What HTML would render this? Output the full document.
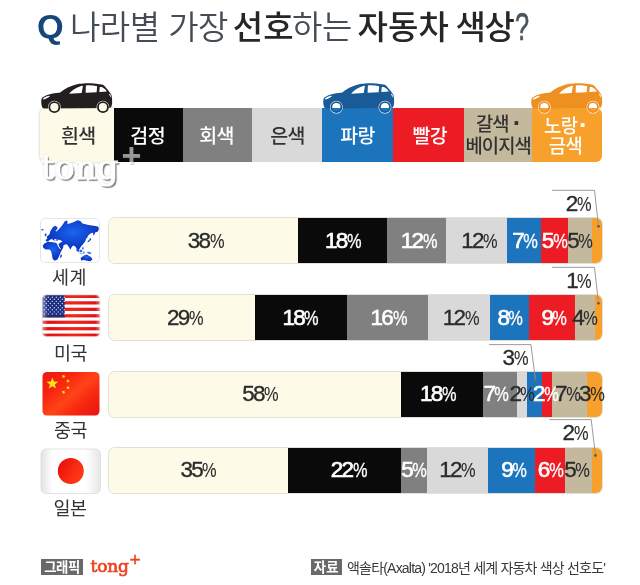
<!DOCTYPE html>
<html lang="ko">
<head>
<meta charset="utf-8">
<title>나라별 가장 선호하는 자동차 색상</title>
<style>
*{margin:0;padding:0;box-sizing:border-box}
html,body{width:640px;height:585px;background:#fff;overflow:hidden}
body{font-family:"Liberation Sans","Noto Sans CJK KR","NanumGothic",sans-serif;color:#333}
#wrap{position:relative;width:640px;height:585px;overflow:hidden;background:#fff}
.abs{position:absolute}
.kr{font-family:"Liberation Sans","Noto Sans CJK KR","NanumGothic",sans-serif}

/* title */
.t{position:absolute;top:4px;height:48px;line-height:48px;font-size:33px;white-space:nowrap;
  font-family:"Liberation Sans","Noto Sans CJK KR","NanumGothic",sans-serif;font-weight:350;color:#454c55}
.t.b{font-weight:500;color:#262626}
.t.q{font-family:"Liberation Sans",sans-serif;font-weight:700;color:#17477a;font-size:33px;top:1.5px;transform:scaleX(1.04);transform-origin:0 0}

/* legend */
.lg{position:absolute;top:108px;height:54px;width:70px;padding-top:2px;display:flex;align-items:center;justify-content:center;text-align:center;
  font-family:"Liberation Sans","Noto Sans CJK KR","NanumGothic",sans-serif;font-size:19.5px;font-weight:500;line-height:22px;color:#fff;letter-spacing:-0.6px}
.lg.dk{color:#333}

/* bars */
.bar{position:absolute;left:109px;width:492.5px;height:45px;border-radius:6px;overflow:hidden;box-shadow:0 0 0 1px #e3e1d6}
.seg{position:absolute;top:0;height:100%}
.pct{position:absolute;height:45px;line-height:45px;font-size:22.5px;white-space:nowrap;text-align:center;
  font-family:"Liberation Sans",sans-serif;letter-spacing:-1.7px;color:#2b2b2b;transform:translateX(-50%);-webkit-text-stroke:0.35px #2b2b2b}
.pct.w{color:#fff;-webkit-text-stroke:0.65px #fff}
.pct i,.co i{font-style:normal;font-size:19.5px;letter-spacing:0;margin-left:0.3px;display:inline-block;transform:scaleX(.84);transform-origin:0 50%;margin-right:-3.1px;-webkit-text-stroke-width:0.1px}
.pct.w i{-webkit-text-stroke-width:0.3px}
.co{position:absolute;font-size:22.5px;line-height:22px;font-family:"Liberation Sans",sans-serif;letter-spacing:-1.7px;color:#2b2b2b;white-space:nowrap;-webkit-text-stroke:0.35px #2b2b2b}

.flag{position:absolute;left:41px;width:59px;height:44px;border-radius:5px;overflow:hidden}
.cn{position:absolute;width:60px;left:40px;text-align:center;font-size:18.5px;line-height:20px;color:#333;
  font-family:"Liberation Sans","Noto Sans CJK KR","NanumGothic",sans-serif;font-weight:400;letter-spacing:-0.5px}

.tag{position:absolute;top:559px;height:16px;background:#666;color:#fff;font-family:"Liberation Sans","Noto Sans CJK KR","NanumGothic",sans-serif;
  font-weight:700;font-size:13.4px;line-height:15.6px;text-align:center;letter-spacing:-0.45px;background:#696969;padding-top:0.6px;overflow:hidden}
</style>
</head>
<body>
<div id="wrap">

<!-- TITLE -->
<div class="t q" style="left:37.3px;top:3px">Q</div>
<div class="t" id="t1" style="left:70px;letter-spacing:-0.5px;word-spacing:0px">나라별 가장</div>
<div class="t b" id="t2" style="left:232.7px;letter-spacing:0.2px">선호</div>
<div class="t" id="t3" style="left:292px;letter-spacing:-0.3px">하는</div>
<div class="t b" id="t4" style="left:357.5px;letter-spacing:0.1px">자동차</div>
<div class="t b" id="t4b" style="left:455.4px;letter-spacing:-1.2px">색상</div>
<div class="t" id="t5" style="left:514.9px;font-size:39px;font-weight:400;top:3.1px;transform:scaleX(.65);transform-origin:0 0;color:#4a545e;-webkit-text-stroke:0.7px #4a545e">?</div>

<!-- LEGEND -->
<div class="lg dk" style="left:40px;width:73.6px;padding-left:3px;background:#fdfbe8;border-radius:6px 0 0 6px;box-shadow:0 0 3px rgba(0,0,0,.25)">흰색</div>
<div class="lg" style="left:113.6px;width:69.2px;padding-right:1px;background:#0a0a0a">검정</div>
<div class="lg" style="left:182.8px;width:69.4px;padding-right:2px;background:#808080">회색</div>
<div class="lg dk" style="left:252.2px;width:69.8px;padding-left:1px;background:#d9d9d9">은색</div>
<div class="lg" style="left:322px;width:71px;background:#1c75bc">파랑</div>
<div class="lg" style="left:393px;width:71px;padding-left:2.5px;background:#ed1c24">빨강</div>
<div class="lg dk" style="left:464px;width:68.3px;background:#c4b99d;font-size:18.8px;line-height:22px;letter-spacing:-0.9px;padding-top:1px;padding-bottom:0"><div>갈색<span style="margin-left:4px;font-size:26px;font-weight:700;line-height:0;position:relative;top:1.5px">·</span><br>베이지색</div></div>
<div class="lg" style="left:532.3px;width:69.7px;background:#f7a12c;border-radius:0 6px 6px 0;font-size:18.8px;line-height:20.5px;letter-spacing:-0.5px;padding-top:4px;padding-right:3px"><div>노랑<span style="margin-left:1.5px;font-size:26px;font-weight:700;line-height:0;position:relative;top:1.5px">·</span><br>금색</div></div>

<!-- BARS -->
<div class="bar" style="top:218px">
<div class="seg" style="left:0px;width:189px;background:#fdfbe8"></div>
<div class="seg" style="left:189px;width:89px;background:#0a0a0a"></div>
<div class="seg" style="left:278px;width:59px;background:#808080"></div>
<div class="seg" style="left:337px;width:61px;background:#d9d9d9"></div>
<div class="seg" style="left:398px;width:34px;background:#1c75bc"></div>
<div class="seg" style="left:432px;width:27px;background:#ed1c24"></div>
<div class="seg" style="left:459px;width:24px;background:#c4b99d"></div>
<div class="seg" style="left:483px;width:10px;background:#f7a12c"></div>
</div>
<div class="pct" style="left:205.75px;top:218px">38<i>%</i></div>
<div class="pct w" style="left:343.00px;top:218px">18<i>%</i></div>
<div class="pct w" style="left:418.85px;top:218px">12<i>%</i></div>
<div class="pct" style="left:479.25px;top:218px">12<i>%</i></div>
<div class="pct w" style="left:525.00px;top:218px">7<i>%</i></div>
<div class="pct w" style="left:554.50px;top:218px">5<i>%</i></div>
<div class="pct" style="left:580.00px;top:218px">5<i>%</i></div>
<div class="bar" style="top:295px">
<div class="seg" style="left:0px;width:146px;background:#fdfbe8"></div>
<div class="seg" style="left:146px;width:92px;background:#0a0a0a"></div>
<div class="seg" style="left:238px;width:81px;background:#808080"></div>
<div class="seg" style="left:319px;width:62px;background:#d9d9d9"></div>
<div class="seg" style="left:381px;width:39.2px;background:#1c75bc"></div>
<div class="seg" style="left:420.2px;width:45.8px;background:#ed1c24"></div>
<div class="seg" style="left:466px;width:20.2px;background:#c4b99d"></div>
<div class="seg" style="left:486.2px;width:7px;background:#f7a12c"></div>
</div>
<div class="pct" style="left:185.00px;top:295px">29<i>%</i></div>
<div class="pct w" style="left:300.50px;top:295px">18<i>%</i></div>
<div class="pct w" style="left:388.65px;top:295px">16<i>%</i></div>
<div class="pct" style="left:460.75px;top:295px">12<i>%</i></div>
<div class="pct w" style="left:510.10px;top:295px">8<i>%</i></div>
<div class="pct w" style="left:554.25px;top:295px">9<i>%</i></div>
<div class="pct" style="left:585.05px;top:295px">4<i>%</i></div>
<div class="bar" style="top:372px">
<div class="seg" style="left:0px;width:291.5px;background:#fdfbe8"></div>
<div class="seg" style="left:291.5px;width:82.5px;background:#0a0a0a"></div>
<div class="seg" style="left:374px;width:34px;background:#808080"></div>
<div class="seg" style="left:408px;width:9.5px;background:#d9d9d9"></div>
<div class="seg" style="left:417.5px;width:15.5px;background:#1c75bc"></div>
<div class="seg" style="left:433px;width:10px;background:#ed1c24"></div>
<div class="seg" style="left:443px;width:35px;background:#c4b99d"></div>
<div class="seg" style="left:478px;width:15px;background:#f7a12c"></div>
</div>
<div class="pct" style="left:260.25px;top:371px">58<i>%</i></div>
<div class="pct w" style="left:438.00px;top:371px">18<i>%</i></div>
<div class="pct w" style="left:496.30px;top:371px">7<i>%</i></div>
<div class="pct" style="left:522.25px;top:371px">2<i>%</i></div>
<div class="pct w" style="left:545.75px;top:371px">2<i>%</i></div>
<div class="pct" style="left:567.80px;top:371px">7<i>%</i></div>
<div class="pct" style="left:591.80px;top:371px">3<i>%</i></div>
<div class="bar" style="top:448px">
<div class="seg" style="left:0px;width:179px;background:#fdfbe8"></div>
<div class="seg" style="left:179px;width:112.5px;background:#0a0a0a"></div>
<div class="seg" style="left:291.5px;width:26.0px;background:#808080"></div>
<div class="seg" style="left:317.5px;width:61.5px;background:#d9d9d9"></div>
<div class="seg" style="left:379px;width:46.5px;background:#1c75bc"></div>
<div class="seg" style="left:425.5px;width:30.0px;background:#ed1c24"></div>
<div class="seg" style="left:455.5px;width:27.0px;background:#c4b99d"></div>
<div class="seg" style="left:482.5px;width:10.5px;background:#f7a12c"></div>
</div>
<div class="pct" style="left:198.50px;top:447px">35<i>%</i></div>
<div class="pct w" style="left:348.75px;top:447px">22<i>%</i></div>
<div class="pct w" style="left:414.00px;top:447px">5<i>%</i></div>
<div class="pct" style="left:457.25px;top:447px">12<i>%</i></div>
<div class="pct w" style="left:514.00px;top:447px">9<i>%</i></div>
<div class="pct w" style="left:550.50px;top:447px">6<i>%</i></div>
<div class="pct" style="left:577.00px;top:447px">5<i>%</i></div>
<!-- FLAGS -->
<svg class="abs" style="left:40px;top:218px" width="60" height="45" viewBox="0 0 60 45">
<defs><radialGradient id="wg" cx="0.52" cy="0.38" r="0.55"><stop offset="0" stop-color="#1a66ee"/><stop offset="1" stop-color="#0b2fbd"/></radialGradient></defs>
<rect x="0.5" y="0.5" width="59" height="44" rx="4.5" fill="#fff" stroke="#e6e6ea"/>
<g fill="url(#wg)">
<!-- Eurasia -->
<path d="M5.6,22 L7.4,20.6 L6.6,19 L8.2,17.6 L9.6,16 L10.2,13.6 L11.6,11 L13,9 L15.2,7.8 L17.6,9.2 L17,11.4 L15.4,13 L16.4,13.6 L18.6,11.6 L20.4,9.6 L22,7.4 L23.6,5.2 L24.6,3.4 L26.6,2.6 L27.6,3.4 L27.4,6.2 L29.4,5.6 L32,4.8 L35,3.4 L37.4,2.2 L40.4,3 L42.4,5.4 L45.6,6.2 L48.6,7 L52,7.6 L55.4,8 L58.4,8.8 L58.8,11.6 L57.4,14 L55.4,14.2 L54.4,16.6 L53.4,17.8 L53,14.8 L50.4,15.6 L48,17.8 L47.4,19.6 L46.2,20.6 L45.2,23.4 L43.2,26 L41,28.6 L39.4,31 L38.4,33.8 L37,31.2 L35.4,28.6 L33,27.6 L31.4,29.6 L30.4,31.8 L28.6,28.6 L26.8,26.2 L25,26.6 L23.4,27.4 L23,30.4 L21.4,31.2 L19.6,29 L18.4,26.2 L20.4,24.6 L22.6,23.8 L21,22.4 L19,21.8 L17.4,22.8 L15.6,22.2 L13.6,22.6 L12,21 L10.4,21.6 L9,22.4 L8,23.4 L6,23.2 Z"/>
<!-- UK, Iceland, Japan -->
<ellipse cx="5.6" cy="16.8" rx="0.9" ry="1.5"/>
<ellipse cx="2.4" cy="11.8" rx="1.2" ry="0.8"/>
<path d="M50.4,20 L51.4,21 L49.4,23.4 L47.2,24.6 L48.4,22.4 Z"/>
<!-- Africa -->
<path d="M4.7,25.2 L8,23.8 L13,24.2 L16.4,25 L18,28.2 L19.6,30.8 L22.4,31 L20.6,34.4 L19,38.4 L17.4,41.6 L14.6,42.8 L12.6,40.8 L11.8,36.2 L11,33 L9.4,31.4 L5.6,31.4 L3.2,29.8 L2.8,27.4 Z"/>
<ellipse cx="21" cy="38.2" rx="0.8" ry="1.7" transform="rotate(20 21 38.2)"/>
<!-- Australia -->
<path d="M40.6,40 L43.6,37.8 L46.8,36.6 L49.2,38 L51.2,39.2 L52.4,41.6 L50.2,43.2 L47,42.8 L43.8,42 L41.2,42.6 Z"/>
<!-- SE Asia islands -->
<g fill="#2a6bec"><ellipse cx="37.4" cy="32.6" rx="0.8" ry="2" transform="rotate(-40 37.4 32.6)"/><ellipse cx="40.8" cy="33" rx="1.5" ry="1.2"/><ellipse cx="42.9" cy="30.2" rx="0.7" ry="1.5"/><ellipse cx="49.2" cy="34.8" rx="2.2" ry="0.9" transform="rotate(15 49.2 34.8)"/></g>
<g fill="#6ea0f3"><ellipse cx="43.8" cy="34.6" rx="1" ry="1.4"/><ellipse cx="41" cy="35.6" rx="1.8" ry="0.5"/></g>
</g>
<!-- inland seas -->
<g fill="#fff"><ellipse cx="15.4" cy="21.6" rx="1.3" ry="0.55"/><ellipse cx="18.6" cy="22.6" rx="0.5" ry="1.1"/><ellipse cx="11" cy="10.6" rx="0.5" ry="1.3" transform="rotate(25 11 10.6)" opacity=".8"/></g>
</svg>
<svg class="abs" style="left:41px;top:294px" width="60" height="45" viewBox="0 0 60 45">
<defs><clipPath id="uc"><rect x="1.2" y="0.8" width="57.8" height="42" rx="4.5"/></clipPath>
<linearGradient id="ug" x1="0" x2="1" y1="0" y2="0"><stop offset="0" stop-color="#fff" stop-opacity=".5"/><stop offset=".1" stop-color="#fff" stop-opacity="0"/><stop offset=".92" stop-color="#fff" stop-opacity="0"/><stop offset="1" stop-color="#fff" stop-opacity=".45"/></linearGradient>
<linearGradient id="ur" x1="0" x2="1" y1="0" y2="0"><stop offset="0" stop-color="#d80f14"/><stop offset=".55" stop-color="#f2261a"/><stop offset="1" stop-color="#dc1016"/></linearGradient></defs>
<g clip-path="url(#uc)"><rect x="1" y="0.8" width="58" height="42" fill="#fff"/>
<g fill="url(#ur)"><rect x="1" y="0.80" width="58" height="3.23"/><rect x="1" y="7.26" width="58" height="3.23"/><rect x="1" y="13.72" width="58" height="3.23"/><rect x="1" y="20.18" width="58" height="3.23"/><rect x="1" y="26.64" width="58" height="3.23"/><rect x="1" y="33.10" width="58" height="3.23"/><rect x="1" y="39.56" width="58" height="3.23"/></g>
<rect x="1" y="0.8" width="22.7" height="22.6" fill="#1b2d7e"/>
<g fill="#cfd8f4" transform="translate(1,1.3)"><circle cx="2.30" cy="1.90" r="0.72"/><circle cx="6.30" cy="1.90" r="0.72"/><circle cx="10.30" cy="1.90" r="0.72"/><circle cx="14.30" cy="1.90" r="0.72"/><circle cx="18.30" cy="1.90" r="0.72"/><circle cx="22.30" cy="1.90" r="0.72"/><circle cx="4.30" cy="4.00" r="0.72"/><circle cx="8.30" cy="4.00" r="0.72"/><circle cx="12.30" cy="4.00" r="0.72"/><circle cx="16.30" cy="4.00" r="0.72"/><circle cx="20.30" cy="4.00" r="0.72"/><circle cx="2.30" cy="6.10" r="0.72"/><circle cx="6.30" cy="6.10" r="0.72"/><circle cx="10.30" cy="6.10" r="0.72"/><circle cx="14.30" cy="6.10" r="0.72"/><circle cx="18.30" cy="6.10" r="0.72"/><circle cx="22.30" cy="6.10" r="0.72"/><circle cx="4.30" cy="8.20" r="0.72"/><circle cx="8.30" cy="8.20" r="0.72"/><circle cx="12.30" cy="8.20" r="0.72"/><circle cx="16.30" cy="8.20" r="0.72"/><circle cx="20.30" cy="8.20" r="0.72"/><circle cx="2.30" cy="10.30" r="0.72"/><circle cx="6.30" cy="10.30" r="0.72"/><circle cx="10.30" cy="10.30" r="0.72"/><circle cx="14.30" cy="10.30" r="0.72"/><circle cx="18.30" cy="10.30" r="0.72"/><circle cx="22.30" cy="10.30" r="0.72"/><circle cx="4.30" cy="12.40" r="0.72"/><circle cx="8.30" cy="12.40" r="0.72"/><circle cx="12.30" cy="12.40" r="0.72"/><circle cx="16.30" cy="12.40" r="0.72"/><circle cx="20.30" cy="12.40" r="0.72"/><circle cx="2.30" cy="14.50" r="0.72"/><circle cx="6.30" cy="14.50" r="0.72"/><circle cx="10.30" cy="14.50" r="0.72"/><circle cx="14.30" cy="14.50" r="0.72"/><circle cx="18.30" cy="14.50" r="0.72"/><circle cx="22.30" cy="14.50" r="0.72"/><circle cx="4.30" cy="16.60" r="0.72"/><circle cx="8.30" cy="16.60" r="0.72"/><circle cx="12.30" cy="16.60" r="0.72"/><circle cx="16.30" cy="16.60" r="0.72"/><circle cx="20.30" cy="16.60" r="0.72"/><circle cx="2.30" cy="18.70" r="0.72"/><circle cx="6.30" cy="18.70" r="0.72"/><circle cx="10.30" cy="18.70" r="0.72"/><circle cx="14.30" cy="18.70" r="0.72"/><circle cx="18.30" cy="18.70" r="0.72"/><circle cx="22.30" cy="18.70" r="0.72"/></g>
<rect x="1" y="0.8" width="58" height="42" fill="url(#ug)"/></g>
<rect x="1.2" y="0.8" width="57.8" height="42" rx="4.5" fill="none" stroke="#e4e4e4" stroke-width="0.8"/>
</svg>
<svg class="abs" style="left:41px;top:371px" width="60" height="46" viewBox="0 0 60 46">
<defs><linearGradient id="cg" x1="0" y1="0" x2="1" y2="0.9"><stop offset="0" stop-color="#ee1a12"/><stop offset=".3" stop-color="#f7240f"/><stop offset=".55" stop-color="#ff4418"/><stop offset=".75" stop-color="#f8280f"/><stop offset="1" stop-color="#ea1612"/></linearGradient></defs>
<rect x="1.5" y="1" width="57" height="43.5" rx="4.5" fill="url(#cg)"/>
<g fill="#ffe21a"><polygon points="11.40,6.40 12.93,10.49 17.30,10.68 13.88,13.40 15.04,17.62 11.40,15.20 7.76,17.62 8.92,13.40 5.50,10.68 9.87,10.49"/><polygon points="23.32,3.43 23.33,4.91 24.70,5.47 23.30,5.94 23.18,7.42 22.30,6.23 20.86,6.57 21.72,5.37 20.95,4.11 22.36,4.55"/><polygon points="28.35,8.39 27.86,9.79 28.95,10.79 27.47,10.75 26.85,12.09 26.43,10.68 24.96,10.51 26.18,9.67 25.89,8.22 27.06,9.12"/><polygon points="27.00,14.50 27.52,15.89 29.00,15.95 27.84,16.87 28.23,18.30 27.00,17.48 25.77,18.30 26.16,16.87 25.00,15.95 26.48,15.89"/><polygon points="23.32,19.23 23.33,20.71 24.70,21.27 23.30,21.74 23.18,23.22 22.30,22.03 20.86,22.37 21.72,21.17 20.95,19.91 22.36,20.35"/></g>
</svg>
<svg class="abs" style="left:40.3px;top:447.6px" width="62" height="47" viewBox="0 0 62 47">
<defs><linearGradient id="jg" x1="0" y1="0" x2="1" y2="0"><stop offset="0" stop-color="#e2e2e2"/><stop offset=".2" stop-color="#fff"/><stop offset=".75" stop-color="#fff"/><stop offset="1" stop-color="#e6e6e6"/></linearGradient>
<linearGradient id="jr" x1="0" y1="0.2" x2="1" y2="0.8"><stop offset="0" stop-color="#e60d0b"/><stop offset=".55" stop-color="#fa2a12"/><stop offset="1" stop-color="#ff3c1a"/></linearGradient></defs>
<rect x="1" y="1" width="59.5" height="44.5" rx="5" fill="url(#jg)" stroke="#dcdcdc" stroke-width="0.8"/>
<circle cx="30.8" cy="23" r="13" fill="url(#jr)"/>
</svg>
<div class="cn" style="top:268px;letter-spacing:0.5px;left:39.5px">세계</div>
<div class="cn" style="top:343.6px;left:40.5px">미국</div>
<div class="cn" style="top:420.8px;left:40.5px">중국</div>
<div class="cn" style="top:499.3px;left:40px">일본</div>
<!-- CALLOUTS -->
<svg class="abs" style="left:0;top:0" width="640" height="585" viewBox="0 0 640 585" fill="none" stroke="#909090" stroke-width="0.9">
<polyline points="552,190.3 594.5,190.3 598.4,225.5"/><circle cx="598.5" cy="226.3" r="1.4" fill="#56606c" stroke="none"/>
<polyline points="552,267.3 594.5,267.3 598.4,302.5"/><circle cx="598.5" cy="303.3" r="1.4" fill="#56606c" stroke="none"/>
<polyline points="489.2,344.6 530.9,344.6 535.5,379.7"/><circle cx="535.6" cy="380.5" r="1.4" fill="#6a6a72" stroke="none"/>
<polyline points="549.3,419.6 591.2,419.6 595.4,454.7"/><circle cx="595.5" cy="455.5" r="1.4" fill="#56606c" stroke="none"/>
</svg>
<div class="co" style="left:565.8px;top:192.7px">2<i>%</i></div>
<div class="co" style="left:566.2px;top:269.7px">1<i>%</i></div>
<div class="co" style="left:502.5px;top:346.8px">3<i>%</i></div>
<div class="co" style="left:562.5px;top:421.8px">2<i>%</i></div>
<!-- CARS -->
<svg class="abs" style="left:36px;top:77.4px" width="84" height="42" viewBox="0 0 640 320">
<defs><linearGradient id="h1" x1="0" y1="0" x2="0" y2="1"><stop offset="0.5" stop-color="#fdfbe8"/><stop offset="0.5" stop-color="#fdfbe8"/></linearGradient></defs>
<path fill="#231f20" d="M48,232 C40,215 38,190 42,168 C50,150 80,138 120,128 C150,122 170,122 185,118 C215,95 260,65 330,52 C370,45 430,44 500,58 C515,60 522,68 530,78 C545,95 562,115 570,128 C578,140 580,160 580,185 C581,205 578,222 570,232 L560,236 L60,240 Z"/>
<path fill="#fff" d="M252,128 L348,122 L358,66 C320,70 280,95 252,128 Z M380,64 L378,120 L462,116 L466,70 C440,64 410,62 380,64 Z M486,76 L482,114 L540,110 C530,95 515,82 500,77 Z"/>
<path fill="#fff" d="M52,165 C65,150 90,142 108,142 C100,155 75,166 55,172 Z"/>
<path fill="#fff" d="M562,128 C568,135 572,145 573,158 C566,150 560,140 556,130 Z"/>
<path fill="#231f20" d="M228,128 l10,-18 l12,0 l-4,18 Z"/>
<circle cx="140" cy="230" r="48.5" fill="#fff"/><circle cx="140" cy="230" r="45" fill="#231f20"/><circle cx="140" cy="230" r="31" fill="url(#h1)"/>
<circle cx="510" cy="230" r="48.5" fill="#fff"/><circle cx="510" cy="230" r="45" fill="#231f20"/><circle cx="510" cy="230" r="31" fill="url(#h1)"/>
</svg>
<svg class="abs" style="left:318px;top:77.4px" width="84" height="42" viewBox="0 0 640 320">
<defs><linearGradient id="h2" x1="0" y1="0" x2="0" y2="1"><stop offset="0.55" stop-color="#ffffff"/><stop offset="0.55" stop-color="#1c75bc"/></linearGradient></defs>
<path fill="#1a5a96" d="M48,232 C40,215 38,190 42,168 C50,150 80,138 120,128 C150,122 170,122 185,118 C215,95 260,65 330,52 C370,45 430,44 500,58 C515,60 522,68 530,78 C545,95 562,115 570,128 C578,140 580,160 580,185 C581,205 578,222 570,232 L560,236 L60,240 Z"/>
<path fill="#fff" d="M252,128 L348,122 L358,66 C320,70 280,95 252,128 Z M380,64 L378,120 L462,116 L466,70 C440,64 410,62 380,64 Z M486,76 L482,114 L540,110 C530,95 515,82 500,77 Z"/>
<path fill="#fff" d="M52,165 C65,150 90,142 108,142 C100,155 75,166 55,172 Z"/>
<path fill="#fff" d="M562,128 C568,135 572,145 573,158 C566,150 560,140 556,130 Z"/>
<path fill="#1a5a96" d="M228,128 l10,-18 l12,0 l-4,18 Z"/>
<circle cx="140" cy="230" r="48.5" fill="#fff"/><circle cx="140" cy="230" r="45" fill="#1a5a96"/><circle cx="140" cy="230" r="31" fill="url(#h2)"/>
<circle cx="510" cy="230" r="48.5" fill="#fff"/><circle cx="510" cy="230" r="45" fill="#1a5a96"/><circle cx="510" cy="230" r="31" fill="url(#h2)"/>
</svg>
<svg class="abs" style="left:526px;top:77.4px" width="84" height="42" viewBox="0 0 640 320">
<defs><linearGradient id="h3" x1="0" y1="0" x2="0" y2="1"><stop offset="0.55" stop-color="#ffffff"/><stop offset="0.55" stop-color="#f7a12c"/></linearGradient></defs>
<path fill="#ee8f22" d="M48,232 C40,215 38,190 42,168 C50,150 80,138 120,128 C150,122 170,122 185,118 C215,95 260,65 330,52 C370,45 430,44 500,58 C515,60 522,68 530,78 C545,95 562,115 570,128 C578,140 580,160 580,185 C581,205 578,222 570,232 L560,236 L60,240 Z"/>
<path fill="#fff" d="M252,128 L348,122 L358,66 C320,70 280,95 252,128 Z M380,64 L378,120 L462,116 L466,70 C440,64 410,62 380,64 Z M486,76 L482,114 L540,110 C530,95 515,82 500,77 Z"/>
<path fill="#fff" d="M52,165 C65,150 90,142 108,142 C100,155 75,166 55,172 Z"/>
<path fill="#fff" d="M562,128 C568,135 572,145 573,158 C566,150 560,140 556,130 Z"/>
<path fill="#ee8f22" d="M228,128 l10,-18 l12,0 l-4,18 Z"/>
<circle cx="140" cy="230" r="48.5" fill="#fff"/><circle cx="140" cy="230" r="45" fill="#ee8f22"/><circle cx="140" cy="230" r="31" fill="url(#h3)"/>
<circle cx="510" cy="230" r="48.5" fill="#fff"/><circle cx="510" cy="230" r="45" fill="#ee8f22"/><circle cx="510" cy="230" r="31" fill="url(#h3)"/>
</svg>
<!-- WATERMARK -->
<div class="abs" id="wm" style="left:40.5px;top:142px;font-family:'DejaVu Serif','Liberation Serif',serif;font-weight:400;font-size:34px;line-height:50px;color:#fff;letter-spacing:0.1px;-webkit-text-stroke:1.2px #fff;text-shadow:1.8px 1.8px 1px rgba(40,40,40,.6),0 0 1.5px rgba(40,40,40,.55);opacity:.93">tong</div>
<div class="abs" id="wmp" style="left:121.5px;top:129.5px;font-family:'Liberation Sans',sans-serif;font-weight:700;font-size:34px;line-height:50px;color:rgba(255,255,255,.56);text-shadow:1px 1px 1px rgba(60,60,60,.25)">+</div>
<!-- FOOTER -->
<div class="tag" style="left:41px;width:42px">그래픽</div>
<div class="abs" style="left:90.5px;top:552px;font-family:'DejaVu Serif','Liberation Serif',serif;font-weight:400;font-size:17px;line-height:28px;color:#f0401e;letter-spacing:-0.2px;-webkit-text-stroke:0.7px #f0401e">tong</div>
<div class="abs" style="left:129.5px;top:549px;font-family:'Liberation Sans',sans-serif;font-weight:400;font-size:19px;line-height:22px;color:#f0401e;-webkit-text-stroke:0.4px #f0401e">+</div>
<div class="tag" style="left:311px;width:30.7px;letter-spacing:0.2px">자료</div>
<div class="abs kr" id="src" style="left:347px;top:557.4px;font-size:14px;line-height:22px;color:#3a3a3a;letter-spacing:-0.8px;white-space:nowrap;font-weight:400">액솔타(Axalta) '2018년 세계 자동차 색상 선호도'</div>

</div>
</body>
</html>
